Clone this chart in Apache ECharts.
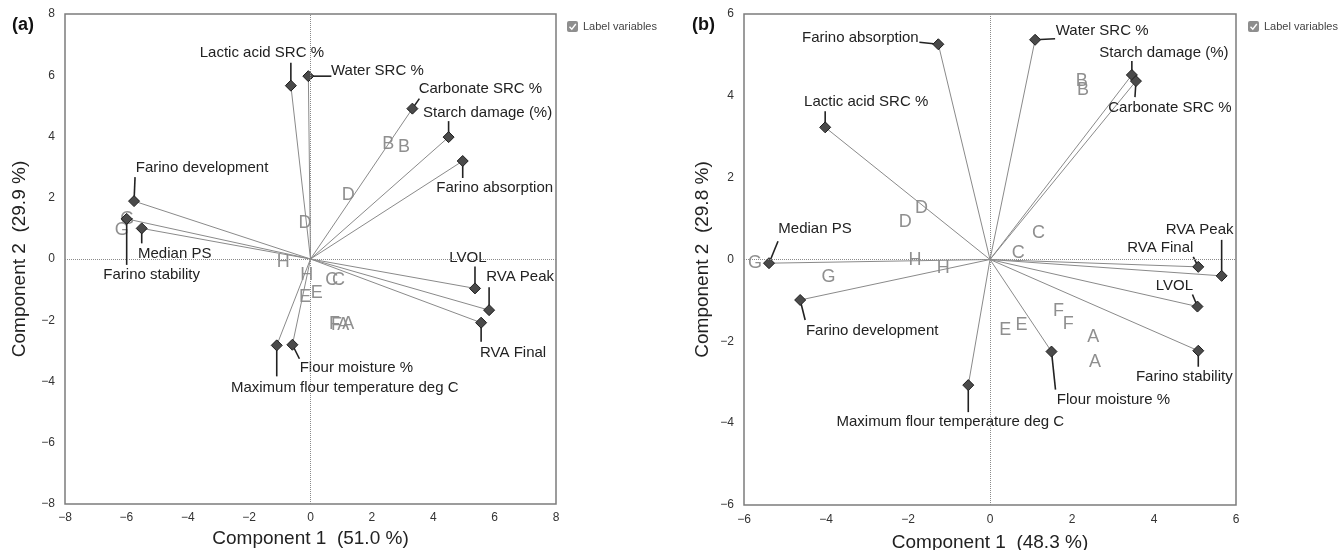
<!DOCTYPE html>
<html><head><meta charset="utf-8">
<script src="https://cdn.jsdelivr.net/npm/echarts@6/dist/echarts.min.js"></script>
<style>html,body{margin:0;padding:0;background:#fff}#c{width:1338px;height:550px}</style>
</head><body><div id="c"></div>
<script>
// ---------- Panel (a) data ----------
const varNamesA = ['Lactic acid SRC %','Water SRC %','Carbonate SRC %','Starch damage (%)','Farino absorption','Farino development','Median PS','Farino stability','LVOL','RVA Peak','RVA Final','Flour moisture %','Maximum flour temperature deg C'];
const varXA = [-0.64,-0.07,3.32,4.50,4.96,-5.75,-5.50,-5.99,5.36,5.82,5.56,-0.59,-1.10];
const varYA = [5.66,5.97,4.91,3.98,3.20,1.89,1.00,1.31,-0.96,-1.67,-2.08,-2.80,-2.82];
const sampleNamesA = ['B','B','D','D','G','G','F','F','A','A','C','C','E','E','H','H'];
const sampleXA = [2.53,3.05,1.23,-0.18,-6.15,-5.97,0.78,0.85,1.07,1.23,0.69,0.91,-0.18,0.20,-0.89,-0.12];
const sampleYA = [3.76,3.66,2.09,1.19,0.95,1.30,-2.12,-2.14,-2.16,-2.12,-0.69,-0.69,-1.23,-1.12,-0.09,-0.52];
const xNameA = 'Component 1  (51.0 %)';
const yNameA = 'Component 2  (29.9 %)';
const ticksA = [-8,-6,-4,-2,0,2,4,6,8];

// ---------- Panel (b) data ----------
const varNamesB = ['Farino absorption','Lactic acid SRC %','Median PS','Water SRC %','Starch damage (%)','Carbonate SRC %','RVA Peak','RVA Final','LVOL','Farino stability','Flour moisture %','Maximum flour temperature deg C','Farino development'];
const varXB = [-1.26,-4.02,-5.39,1.10,3.46,3.56,5.65,5.08,5.06,5.08,1.50,-0.53,-4.63];
const varYB = [5.26,3.23,-0.09,5.37,4.51,4.36,-0.40,-0.18,-1.15,-2.23,-2.25,-3.07,-0.99];
const sampleNamesB = ['B','B','C','C','D','D','G','G','H','H','E','E','F','F','A','A'];
const sampleXB = [2.24,2.27,1.18,0.69,-1.67,-2.07,-5.73,-3.94,-1.83,-1.14,0.37,0.77,1.67,1.91,2.52,2.56];
const sampleYB = [4.35,4.13,0.64,0.15,1.25,0.92,-0.09,-0.42,-0.01,-0.22,-1.72,-1.60,-1.25,-1.58,-1.90,-2.50];
const xNameB = 'Component 1  (48.3 %)';
const yNameB = 'Component 2  (29.8 %)';
const ticksB = [-6,-4,-2,0,2,4,6];

// ---------- Label layout (pixel offsets from the marker: text centre tx,ty ; leader end lx,ly) ----------
const layoutA = [
  {tx:-29,ty:-33,lx:0,ly:-23},{tx:69,ty:-5,lx:23,ly:0},{tx:68,ty:-20,lx:7,ly:-10},
  {tx:39,ty:-24,lx:0,ly:-16},{tx:32,ty:27,lx:0,ly:17},{tx:68,ty:-33,lx:1,ly:-24},
  {tx:33,ty:25,lx:0,ly:15},{tx:25,ty:56,lx:0,ly:46},{tx:-7,ty:-31,lx:0,ly:-22},
  {tx:31,ty:-33,lx:0,ly:-23},{tx:32,ty:30,lx:0,ly:19},{tx:64,ty:23,lx:7,ly:14},
  {tx:68,ty:42,lx:0,ly:31}
];
const layoutB = [
  {tx:-78,ty:-6,lx:-19,ly:-2},{tx:41,ty:-25,lx:0,ly:-16},{tx:46,ty:-34,lx:9,ly:-22},
  {tx:67,ty:-9,lx:20,ly:-1},{tx:32,ty:-22,lx:0,ly:-14},{tx:34,ty:27,lx:-1,ly:16},
  {tx:-22,ty:-46,lx:0,ly:-36},{tx:-38,ty:-19,lx:-5,ly:-10},{tx:-23,ty:-21,lx:-5,ly:-12},
  {tx:-14,ty:26,lx:0,ly:16},{tx:62,ty:48,lx:4,ly:38},{tx:-18,ty:37,lx:0,ly:27},
  {tx:72,ty:31,lx:5,ly:20}
];

const FONT = '"Liberation Sans", Arial, Helvetica, sans-serif';
const fmt = v => String(v).replace('-', '\u2212');

function vectorSeries(names, xs, ys, layout, axisIdx) {
  return {
    type: 'custom', xAxisIndex: axisIdx, yAxisIndex: axisIdx, z: 3, silent: true,
    data: xs.map((x, i) => [x, ys[i], i]),
    renderItem: (params, api) => {
      const i = api.value(2);
      const p = api.coord([api.value(0), api.value(1)]);
      const o = api.coord([0, 0]);
      const L = layout[i];
      const s = 5.5;
      return { type: 'group', children: [
        { type: 'line', z2: 1, shape: {x1:o[0],y1:o[1],x2:p[0],y2:p[1]}, style: {stroke:'#8a8a8a', lineWidth:1} },
        { type: 'line', z2: 2, shape: {x1:p[0],y1:p[1],x2:p[0]+L.lx,y2:p[1]+L.ly}, style: {stroke:'#222', lineWidth:1.6} },
        { type: 'polygon', z2: 3, shape: {points:[[p[0],p[1]-s],[p[0]+s,p[1]],[p[0],p[1]+s],[p[0]-s,p[1]]]}, style: {fill:'#4a4a4a', stroke:'#1e1e1e', lineWidth:1} },
        { type: 'text', z2: 4, x: p[0]+L.tx, y: p[1]+L.ty, style: {text: names[i], fill:'#222', font:'15px ' + FONT, align:'center', verticalAlign:'middle'} }
      ]};
    }
  };
}
function sampleSeries(names, xs, ys, axisIdx) {
  return {
    type: 'custom', xAxisIndex: axisIdx, yAxisIndex: axisIdx, z: 2, silent: true,
    data: xs.map((x, i) => [x, ys[i], i]),
    renderItem: (params, api) => {
      const p = api.coord([api.value(0), api.value(1)]);
      return { type: 'text', x: p[0], y: p[1], style: {text: names[api.value(2)], fill:'#8f8f8f', font:'18px ' + FONT, align:'center', verticalAlign:'middle'} };
    },
    markLine: {
      silent: true, symbol: 'none', label: {show:false}, animation: false,
      lineStyle: {type:'dotted', color:'#8a8a8a', width:1},
      data: [{xAxis: 0}, {yAxis: 0}]
    }
  };
}
function xAxis(ticks, name, idx, gap, margin) {
  return { type:'value', gridIndex: idx, min: ticks[0], max: ticks[ticks.length-1], interval: 2,
    name: name, nameLocation:'middle', nameGap: gap, nameTextStyle:{fontSize:19, color:'#222', fontFamily:FONT},
    axisLine:{show:false}, axisTick:{show:false}, splitLine:{show:false},
    axisLabel:{formatter: fmt, fontSize:12, color:'#333', margin: margin, fontFamily:FONT} };
}
function yAxis(ticks, name, idx, gap) {
  return { type:'value', gridIndex: idx, min: ticks[0], max: ticks[ticks.length-1], interval: 2,
    name: name, nameLocation:'middle', nameGap: gap, nameTextStyle:{fontSize:19, color:'#222', fontFamily:FONT},
    axisLine:{show:false}, axisTick:{show:false}, splitLine:{show:false},
    axisLabel:{formatter: fmt, fontSize:12, color:'#333', margin: 10, fontFamily:FONT} };
}
function checkbox(x, y) {
  return [
    { type:'rect', z: 10, shape:{x:x, y:y, width:11, height:11, r:2}, style:{fill:'#8e8e8e'} },
    { type:'polyline', z: 11, shape:{points:[[x+2.5,y+5.8],[x+4.8,y+8.2],[x+8.8,y+3]]}, style:{stroke:'#ffffff', lineWidth:1.4, fill:null} },
    { type:'text', z: 10, x: x+16, y: y+5.5, style:{text:'Label variables', font:'11px ' + FONT, fill:'#444', verticalAlign:'middle'} }
  ];
}

const chart = echarts.init(document.getElementById('c'), null, {renderer:'canvas'});
chart.setOption({
  animation: false,
  backgroundColor: '#fff',
  grid: [
    {left:65, top:14, width:491, height:490, show:true, borderColor:'#7c7c7c', borderWidth:1.5, backgroundColor:'transparent', containLabel:false, outerBoundsMode:'none'},
    {left:744, top:14, width:492, height:491, show:true, borderColor:'#7c7c7c', borderWidth:1.5, backgroundColor:'transparent', containLabel:false, outerBoundsMode:'none'}
  ],
  xAxis: [xAxis(ticksA, xNameA, 0, 25, 8), xAxis(ticksB, xNameB, 1, 28, 9)],
  yAxis: [yAxis(ticksA, yNameA, 0, 36), yAxis(ticksB, yNameB, 1, 32)],
  graphic: [
    { type:'text', left:12, top:16, style:{text:'(a)', font:'bold 18px ' + FONT, fill:'#111'} },
    { type:'text', left:692, top:16, style:{text:'(b)', font:'bold 18px ' + FONT, fill:'#111'} },
    ...checkbox(567, 21), ...checkbox(1248, 21)
  ],
  series: [
    sampleSeries(sampleNamesA, sampleXA, sampleYA, 0),
    vectorSeries(varNamesA, varXA, varYA, layoutA, 0),
    sampleSeries(sampleNamesB, sampleXB, sampleYB, 1),
    vectorSeries(varNamesB, varXB, varYB, layoutB, 1)
  ]
});
</script></body></html>
